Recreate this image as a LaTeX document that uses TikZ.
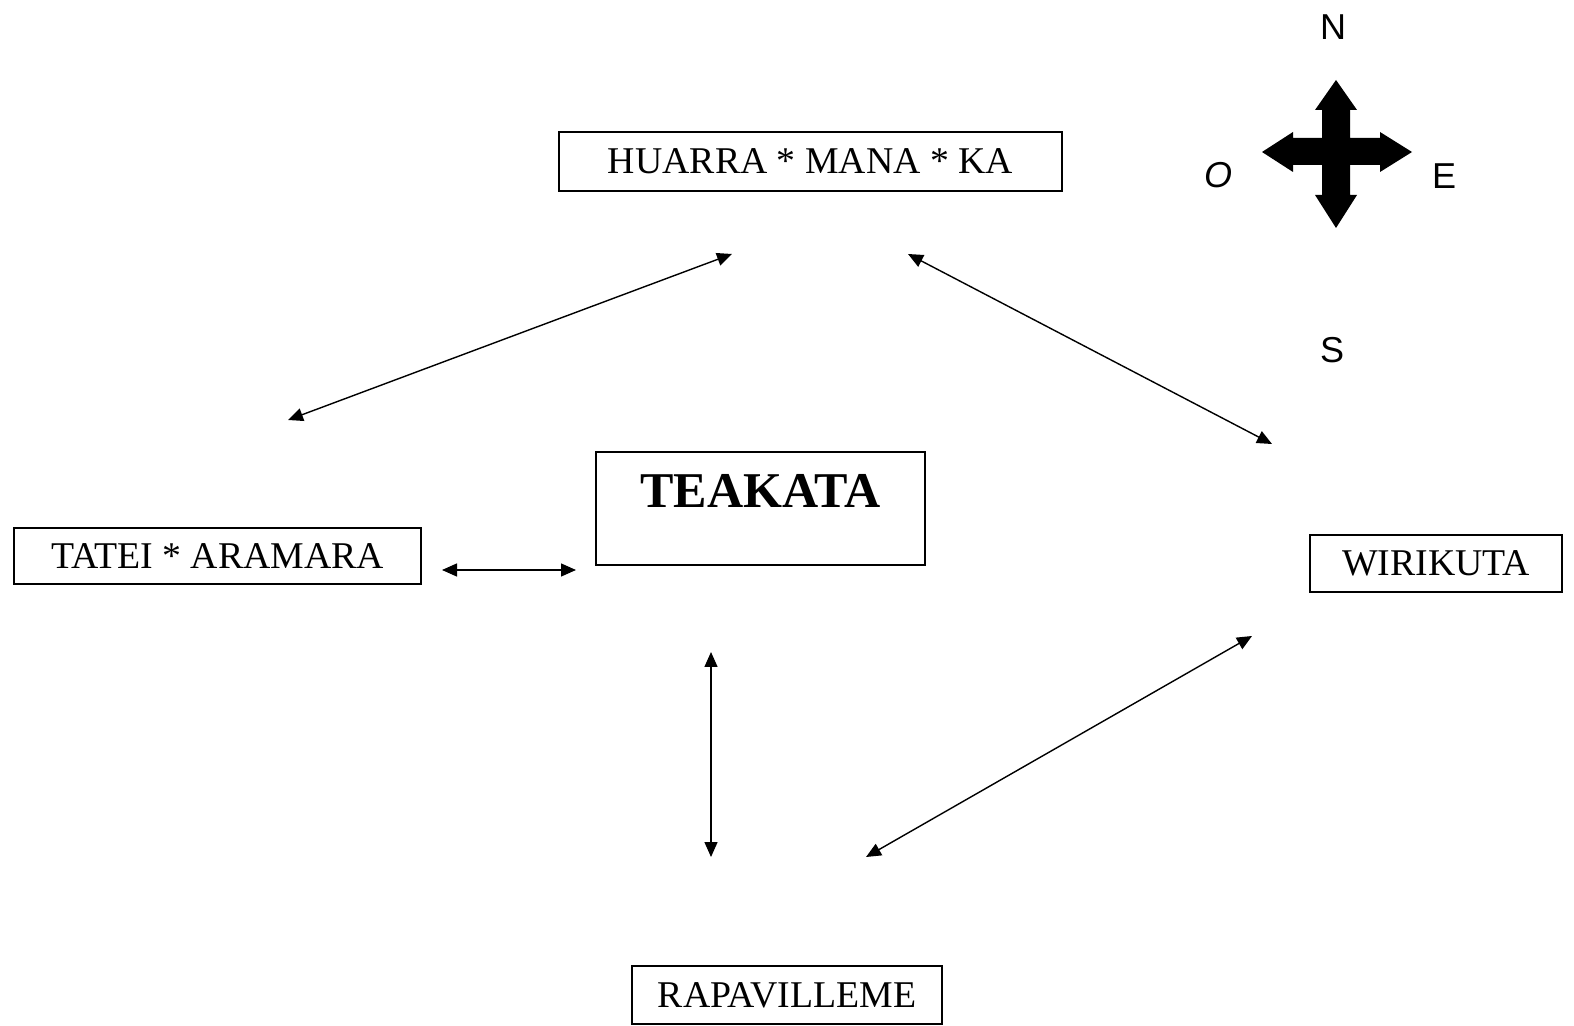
\documentclass[tikz,border=0pt]{standalone}
\usepackage{fontspec}
\setmainfont{Liberation Serif}
\newfontfamily\compassfont{Liberation Sans}
\usetikzlibrary{arrows.meta}
\tikzset{
    normal/.style={draw, line width=0.8pt},
    place/.style={style=normal, rectangle, inner sep=0pt, font=\fontsize{21.5}{26}\selectfont}, % outer places
    centre/.style={style=normal, rectangle, inner sep=0pt, font=\fontsize{28.5}{33}\selectfont\bfseries}, % middle place
    e/.style={line width=0.8pt, {Triangle[length=3mm,width=2.6mm]}-{Triangle[length=3mm,width=2.6mm]}}, % two-way path
    wind/.style={inner sep=0pt, font=\compassfont\fontsize{20.5}{24}\selectfont} % compass letters
}

\begin{document}
\begin{tikzpicture}[x=0.02cm, y=-0.02cm]
        \useasboundingbox (0,0) rectangle (1574,1026);

        \node[place, minimum width=10.06cm, minimum height=1.18cm] (huarra) at (810.5,161.5)
        {HUARRA * MANA * KA};
        \node[place, minimum width=8.14cm, minimum height=1.12cm] (tatei) at (217.5,556)
        {TATEI * ARAMARA};
        \node[centre, anchor=base, minimum width=6.58cm, text height=1.12cm, text depth=1.14cm] (teakata) at (760.5,508)
        {TEAKATA};
        \node[place, minimum width=5.04cm, minimum height=1.14cm] (wirikuta) at (1436,563.5)
        {WIRIKUTA};
        \node[place, minimum width=6.2cm, minimum height=1.16cm] (rapa) at (787,995)
        {RAPAVILLEME};

        % compass
        \fill (1336,80) -- (1357,110) -- (1350,110) -- (1350,138) -- (1380,138) -- (1380,132)
        -- (1412,152) -- (1380,172) -- (1380,165) -- (1350,165) -- (1350,195) -- (1357,195)
        -- (1336,228) -- (1315,195) -- (1322,195) -- (1322,165) -- (1293,165) -- (1293,172)
        -- (1262,152) -- (1293,132) -- (1293,138) -- (1322,138) -- (1322,110) -- (1315,110) -- cycle;
        \node[wind] (north) at (1333,27) {N};
        \node[wind] (south) at (1332,350) {S};
        \node[wind] (east) at (1444,176) {E};
        \node[wind, font=\compassfont\itshape\fontsize{20.5}{24}\selectfont] (west) at (1218,175) {O};

        % path ends
        \coordinate (hw) at (288,420);
        \coordinate (wh) at (732,254);
        \coordinate (he) at (908,254);
        \coordinate (eh) at (1272,444);
        \coordinate (tl) at (442,570);
        \coordinate (tr) at (576,570);
        \coordinate (vt) at (711,652);
        \coordinate (vb) at (711,857);
        \coordinate (rs) at (866,857);
        \coordinate (rn) at (1252,636);

        \draw[e] (hw) -- (wh);
        \draw[e] (he) -- (eh);
        \draw[e] (tl) -- (tr);
        \draw[e] (vt) -- (vb);
        \draw[e] (rs) -- (rn);
      \end{tikzpicture}
\end{document}
